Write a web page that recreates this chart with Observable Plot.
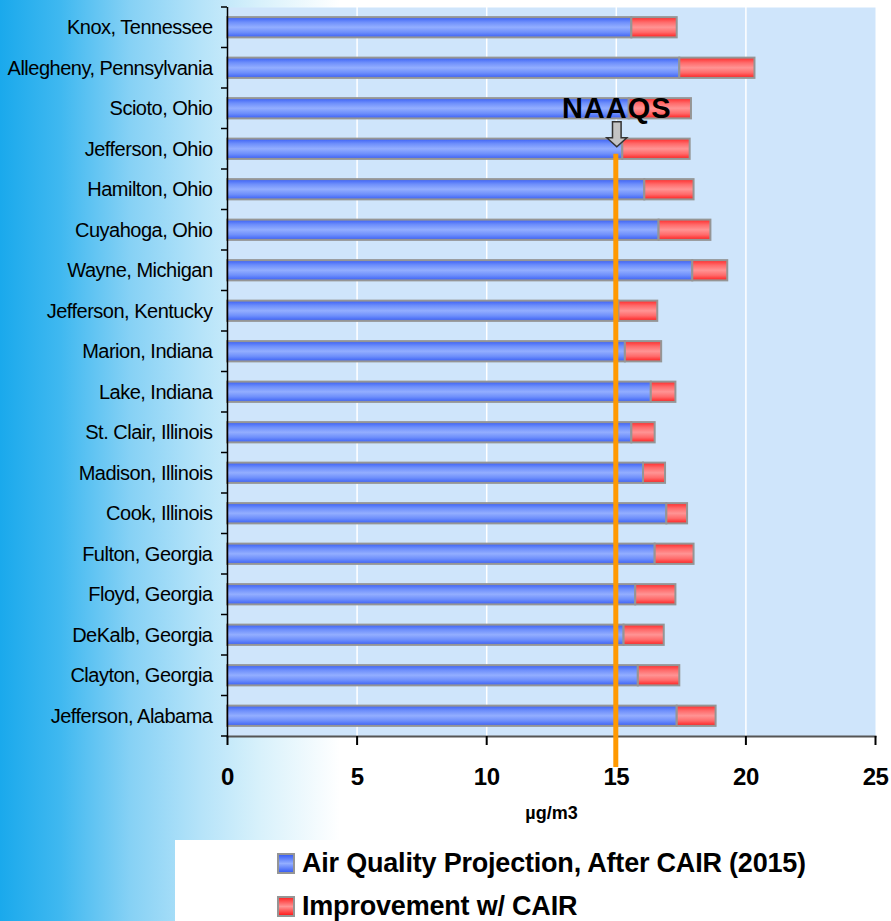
<!DOCTYPE html>
<html>
<head>
<meta charset="utf-8">
<script src="https://cdn.jsdelivr.net/npm/d3@7"></script>
<script src="https://cdn.jsdelivr.net/npm/@observablehq/plot@0.6"></script>
<style>
  html, body { margin: 0; padding: 0; background: white; }
  #wrap { position: relative; width: 891px; height: 921px; overflow: hidden; background: white;
          font-family: "Liberation Sans", Arial, sans-serif; }
  #grad { position: absolute; left: 0; top: 0; width: 340px; height: 921px;
          background: linear-gradient(to right, #1aa9ec 0px, #3fb8f0 60px, #86d1f5 130px, #b5e3f9 200px, #d8f1fb 260px, #ffffff 340px); }
  #chart { position: absolute; left: 0; top: 0; }
  #legend { position: absolute; left: 175px; top: 840px; width: 716px; height: 81px; background: white; }
  .item { position: absolute; left: 102px; display: flex; align-items: center; height: 24px; }
  .sw { width: 18px; height: 21px; box-sizing: border-box; border: 2px solid #959595; margin-right: 7px; }
  .lt { font-size: 27px; font-weight: bold; letter-spacing: -0.2px; color: #000; white-space: nowrap; }
  g[aria-label="y-axis tick label"] text { letter-spacing: -0.5px; }
  g[aria-label="x-axis tick label"] text { letter-spacing: -0.5px; }
</style>
</head>
<body>
<div id="wrap">
  <div id="grad"></div>
  <div id="chart"></div>
  <div id="legend"></div>
</div>
<script>
const counties = [
  "Knox, Tennessee", "Allegheny, Pennsylvania", "Scioto, Ohio", "Jefferson, Ohio",
  "Hamilton, Ohio", "Cuyahoga, Ohio", "Wayne, Michigan", "Jefferson, Kentucky",
  "Marion, Indiana", "Lake, Indiana", "St. Clair, Illinois", "Madison, Illinois",
  "Cook, Illinois", "Fulton, Georgia", "Floyd, Georgia", "DeKalb, Georgia",
  "Clayton, Georgia", "Jefferson, Alabama"
];
const projection = [15.6, 17.45, 15.5, 15.25, 16.1, 16.65, 17.95, 15.1, 15.35, 16.35, 15.6, 16.05, 16.95, 16.5, 15.75, 15.3, 15.85, 17.35];
const improvement = [1.75, 2.9, 2.4, 2.6, 1.9, 2.0, 1.35, 1.5, 1.4, 0.95, 0.9, 0.85, 0.8, 1.5, 1.55, 1.55, 1.6, 1.5];
const xTicks = [0, 5, 10, 15, 20, 25];
const gridValues = [5, 10, 15, 20];
const naaqs = 15;
const naaqsCounty = "Jefferson, Ohio";
const seriesNames = ["Air Quality Projection, After CAIR (2015)", "Improvement w/ CAIR"];
const xLabel = "µg/m3";

const rows = counties.map((c, i) => ({county: c, proj: projection[i], total: projection[i] + improvement[i]}));

const chart = Plot.plot({
  width: 891,
  height: 840,
  marginLeft: 227,
  marginRight: 16,
  marginTop: 7,
  marginBottom: 104,
  style: {background: "transparent", fontFamily: "'Liberation Sans', Arial, sans-serif", color: "black", overflow: "visible"},
  x: {domain: [0, 25]},
  y: {domain: counties, paddingInner: 0.5, paddingOuter: 0.25, round: false},
  marks: [
    Plot.frame({fill: "#cfe5fb", stroke: null}),
    Plot.ruleX(gridValues, {stroke: "white", strokeWidth: 1.5}),
    Plot.barX(rows, {y: "county", x1: 0, x2: "proj", fill: "url(#gBlue)", stroke: "#959595", strokeWidth: 2}),
    Plot.barX(rows, {y: "county", x1: "proj", x2: "total", fill: "url(#gRed)", stroke: "#959595", strokeWidth: 2}),
    Plot.frame({anchor: "bottom", stroke: "#555", strokeWidth: 2}),
    Plot.ruleX([0], {stroke: "black", strokeWidth: 1.5}),
    Plot.axisY({tickSize: 0, tickPadding: 15, fontSize: 20, label: null}),
    Plot.axisX({ticks: xTicks, tickSize: 9, tickPadding: 22, fontSize: 24, fontWeight: "bold", label: null, strokeWidth: 2}),
    Plot.text([xLabel], {frameAnchor: "bottom", dy: 82, fontSize: 18, fontWeight: "bold", letterSpacing: -0.5})
  ]
});
document.getElementById("chart").appendChild(chart);

const svg = d3.select(chart);
const defs = svg.insert("defs", ":first-child");
function vgrad(id, stops) {
  const g = defs.append("linearGradient").attr("id", id).attr("x1", 0).attr("y1", 0).attr("x2", 0).attr("y2", 1);
  stops.forEach(([o, c]) => g.append("stop").attr("offset", o).attr("stop-color", c));
}
vgrad("gBlue", [[0, "#3a5ff5"], [0.25, "#6e8ffb"], [0.5, "#93aeff"], [0.75, "#6e8ffb"], [1, "#3a5ff5"]]);
vgrad("gRed", [[0, "#ff2a2a"], [0.25, "#ff6a6a"], [0.5, "#ff9494"], [0.75, "#ff6a6a"], [1, "#ff1e1e"]]);

const xs = chart.scale("x");
const ys = chart.scale("y");
const bw = ys.bandwidth;
const step = ys.step || (ys.apply(counties[1]) - ys.apply(counties[0]));
const x0 = xs.apply(0);
const yBottom = ys.range[1];

// y-axis tick marks at band boundaries
const bounds = counties.map(c => ys.apply(c) - (step - bw) / 2).concat([yBottom]);
svg.append("g").selectAll("line").data(bounds).join("line")
  .attr("x1", x0 - 6).attr("x2", x0).attr("y1", d => d).attr("y2", d => d)
  .attr("stroke", "black").attr("stroke-width", 1.5);

// NAAQS line, arrow and label
const xn = xs.apply(naaqs);
const yc = ys.apply(naaqsCounty) + bw / 2;
svg.append("line").attr("x1", xn).attr("x2", xn).attr("y1", yc + 5).attr("y2", yBottom + 31)
  .attr("stroke", "#ff9900").attr("stroke-width", 5);
const ax = xn + 1;
const tip = yc - 2;
svg.append("path")
  .attr("d", `M${ax - 4.3},${tip - 25} L${ax + 4.3},${tip - 25} L${ax + 4.3},${tip - 9} L${ax + 10},${tip - 9} L${ax},${tip} L${ax - 10},${tip - 9} L${ax - 4.3},${tip - 9} Z`)
  .attr("fill", "#c4c4c4").attr("stroke", "#333").attr("stroke-width", 1.5).attr("stroke-linejoin", "miter");
svg.append("text").attr("x", ax).attr("y", yc - 31).attr("text-anchor", "middle")
  .attr("font-size", 29).attr("font-weight", "bold").attr("letter-spacing", 1)
  .attr("fill", "black").text("NAAQS");

// Legend
const legend = document.getElementById("legend");
const swatches = ["linear-gradient(to bottom, #3a5ff5, #93aeff, #3a5ff5)", "linear-gradient(to bottom, #ff2a2a, #ff9494, #ff1e1e)"];
const tops = [11, 54];
seriesNames.forEach((name, i) => {
  const it = document.createElement("div");
  it.className = "item";
  it.style.top = tops[i] + "px";
  it.innerHTML = `<div class="sw" style="background:${swatches[i]}"></div><span class="lt">${name}</span>`;
  legend.appendChild(it);
});
</script>
</body>
</html>
